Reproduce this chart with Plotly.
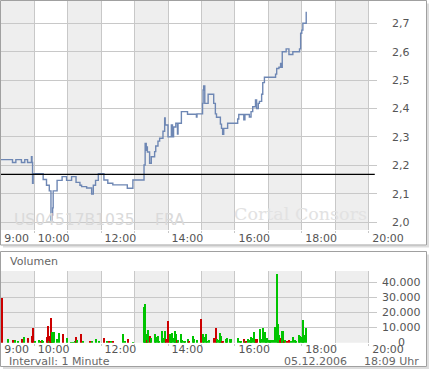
import plotly.graph_objects as go

DAY = "2006-12-05 "

# ---------------- data ----------------
price_times = ["09:00", "09:21", "09:27", "09:37", "09:43", "09:48", "09:55", "09:56", "09:57", "09:58",
               "10:16", "10:22", "10:27", "10:30", "10:32", "10:33", "10:34", "10:41", "10:50", "10:58",
               "11:07", "11:15", "11:22", "11:25", "11:34", "11:43", "11:46", "11:50", "11:55", "12:05",
               "12:12", "12:21", "12:47", "12:57", "13:17", "13:19", "13:21", "13:22", "13:23", "13:27",
               "13:30", "13:36", "13:38", "13:42", "13:45", "13:51", "13:54", "13:55", "14:00", "14:06",
               "14:08", "14:10", "14:14", "14:17", "14:18", "14:24", "14:35", "14:51", "14:52", "15:02",
               "15:03", "15:04", "15:06", "15:12", "15:22", "15:25", "15:27", "15:34", "15:36", "15:38",
               "15:40", "15:47", "16:05", "16:07", "16:16", "16:18", "16:26", "16:29", "16:32", "16:37",
               "16:39", "16:42", "16:44", "16:48", "16:50", "16:53", "17:13", "17:15", "17:19", "17:22",
               "17:23", "17:25", "17:32", "17:37", "17:44", "17:56", "17:58", "18:00", "18:02", "18:08"]
price_values = [2.22, 2.21, 2.22, 2.21, 2.22, 2.21, 2.23, 2.21, 2.137, 2.17,
                2.15, 2.13, 2.11, 2.007, 2.025, 2.05, 2.11, 2.147, 2.16, 2.147,
                2.16, 2.14, 2.13, 2.125, 2.12, 2.099, 2.13, 2.147, 2.17, 2.148,
                2.137, 2.131, 2.119, 2.148, 2.201, 2.277, 2.253, 2.265, 2.247, 2.207,
                2.23, 2.248, 2.268, 2.285, 2.295, 2.32, 2.367, 2.342, 2.30, 2.342,
                2.30, 2.335, 2.348, 2.31, 2.348, 2.389, 2.38, 2.37, 2.381, 2.418,
                2.465, 2.479, 2.418, 2.45, 2.418, 2.381, 2.369, 2.345, 2.33, 2.309,
                2.33, 2.348, 2.363, 2.379, 2.36, 2.379, 2.37, 2.389, 2.406, 2.43,
                2.40, 2.418, 2.425, 2.45, 2.491, 2.51, 2.521, 2.541, 2.545, 2.559,
                2.545, 2.60, 2.61, 2.59, 2.60, 2.61, 2.665, 2.676, 2.70, 2.741]
prev_close = 2.168

vol_times = ["09:02", "09:12", "09:21", "09:26", "09:31", "09:37", "09:42", "09:48", "09:56", "09:58",
             "10:01", "10:09", "10:11", "10:14", "10:16", "10:22", "10:24", "10:26", "10:28", "10:29",
             "10:30", "10:32", "10:34", "10:36", "10:40", "10:44", "10:52", "10:58", "11:06", "11:09",
             "11:13", "11:15", "11:17", "11:24", "11:27", "11:40", "11:44", "11:50", "11:55", "12:05",
             "12:11", "12:14", "12:17", "12:21", "12:39", "12:42", "12:47", "12:57", "13:17", "13:19",
             "13:21", "13:22", "13:24", "13:28", "13:30", "13:37", "13:39", "13:42", "13:44", "13:48",
             "13:51", "13:55", "13:56", "14:00", "14:04", "14:05", "14:07", "14:11", "14:13", "14:14",
             "14:16", "14:18", "14:23", "14:25", "14:28", "14:31", "14:35", "14:37", "14:45", "14:47",
             "14:52", "14:59", "15:03", "15:05", "15:07", "15:09", "15:13", "15:22", "15:26", "15:28",
             "15:31", "15:33", "15:35", "15:37", "15:39", "15:43", "15:46", "15:50", "15:53", "16:05",
             "16:09", "16:11", "16:16", "16:18", "16:20", "16:23", "16:26", "16:28", "16:30", "16:34",
             "16:36", "16:38", "16:40", "16:45", "16:47", "16:50", "16:53", "16:55", "16:58", "17:01",
             "17:03", "17:05", "17:08", "17:12", "17:15", "17:17", "17:19", "17:21", "17:23", "17:24",
             "17:26", "17:28", "17:30", "17:34", "17:36", "17:40", "17:44", "17:47", "17:49", "17:55",
             "17:57", "18:00", "18:02", "18:04", "18:08"]
vol_values = [30000, 2400, 1800, 1800, 1300, 2400, 3800, 2900, 4700, 10000,
              900, 1800, 900, 1800, 700, 4000, 11100, 1100, 4400, 16700,
              8400, 7300, 4700, 7300, 2400, 6200, 5800, 3100, 400, 400,
              700, 3800, 1800, 5800, 700, 1100, 1100, 2400, 1100, 3100,
              1100, 1100, 1100, 1100, 5800, 1100, 2400, 400, 24000, 25800,
              5800, 2000, 8400, 4700, 3300, 5800, 3800, 4400, 1100, 7800,
              2900, 7800, 2400, 14400, 5800, 5800, 6400, 3100, 7800, 5800,
              1800, 1800, 5800, 1800, 1100, 700, 2400, 1100, 4400, 2400,
              1800, 15800, 5800, 3800, 5800, 1100, 1800, 3100, 9800, 2400,
              1800, 6700, 4700, 1100, 1100, 2400, 2900, 2400, 2400, 3300,
              1100, 1100, 2400, 1100, 700, 2400, 1800, 4000, 2900, 7300,
              2400, 2400, 2400, 9100, 2400, 10000, 7300, 1800, 3300, 1800,
              1100, 1800, 1800, 10700, 45800, 12200, 5100, 1800, 3300, 7800,
              7800, 1100, 1800, 1100, 1800, 700, 4000, 1800, 1100, 5100,
              4400, 4000, 15100, 5100, 10000]
# +1 = up tick (green), -1 = down tick (red)
vol_direction = [-1, 1, -1, 1, 1, -1, 1, -1, -1, -1,
                 1, 1, -1, 1, 1, -1, -1, 1, -1, -1,
                 -1, 1, 1, 1, 1, 1, -1, 1, 1, 1,
                 1, -1, 1, -1, 1, -1, 1, 1, 1, -1,
                 1, -1, 1, -1, 1, 1, -1, 1, 1, 1,
                 1, -1, 1, -1, 1, 1, 1, 1, 1, 1,
                 1, 1, -1, -1, 1, 1, 1, 1, 1, 1,
                 -1, 1, 1, 1, 1, 1, 1, -1, 1, 1,
                 1, -1, 1, 1, 1, 1, 1, -1, -1, 1,
                 1, 1, 1, -1, -1, 1, 1, 1, 1, 1,
                 1, 1, -1, 1, -1, 1, 1, 1, 1, 1,
                 1, -1, -1, 1, 1, 1, 1, 1, 1, 1,
                 1, 1, 1, 1, 1, 1, 1, -1, -1, 1,
                 1, -1, 1, -1, -1, 1, 1, 1, 1, 1,
                 1, 1, 1, 1, 1]

hour_ticks = ["09:00", "10:00", "11:00", "12:00", "13:00", "14:00", "15:00",
              "16:00", "17:00", "18:00", "19:00", "20:00"]
hour_labels = ["9:00", "10:00", "", "12:00", "", "14:00", "", "16:00", "", "18:00", "", "20:00"]
shaded_hours = [("09:00", "10:00"), ("11:00", "12:00"), ("13:00", "14:00"),
                ("15:00", "16:00"), ("17:00", "18:00"), ("19:00", "20:00")]
price_ticks = [2.0, 2.1, 2.2, 2.3, 2.4, 2.5, 2.6, 2.7]
price_tick_labels = ["2,0", "2,1", "2,2", "2,3", "2,4", "2,5", "2,6", "2,7"]
vol_ticks = [0, 10000, 20000, 30000, 40000]
vol_tick_labels = ["0", "10.000", "20.000", "30.000", "40.000"]

# ---------------- styling / geometry ----------------
W, H = 432, 372
def PX(x):
    return x / W
def PY(y):
    return 1 - y / H

FONT = "DejaVu Sans, Verdana, sans-serif"
GRID = "#C8C8C8"
BAND = "#EEEEEE"
TXT = "#555555"
LINE = "#6E87B4"
UP = "#00C400"
DOWN = "#CC0000"

t = lambda s: DAY + s + ":00"
x_range = [t("09:00"), t("20:15")]

fig = go.Figure()

fig.add_trace(go.Scatter(
    x=[t(s) for s in price_times], y=price_values, mode="lines",
    line=dict(color=LINE, width=1.4, shape="hv"),
    xaxis="x", yaxis="y", hoverinfo="skip", showlegend=False))

fig.add_trace(go.Bar(
    x=[t(s) for s in vol_times], y=vol_values,
    marker=dict(color=[UP if d > 0 else DOWN for d in vol_direction], line=dict(width=0)),
    width=110000, xaxis="x2", yaxis="y2", hoverinfo="skip", showlegend=False))

shapes = []
for a, b in shaded_hours:
    for xr, yr in (("x", "y domain"), ("x2", "y2 domain")):
        shapes.append(dict(type="rect", xref=xr, yref=yr, x0=t(a), x1=t(b), y0=0, y1=1,
                           fillcolor=BAND, line=dict(width=0), layer="below"))
# previous close line
shapes.append(dict(type="line", xref="x", yref="y", x0=t("09:00"), x1=t("20:11"),
                   y0=prev_close, y1=prev_close, line=dict(color="#000000", width=1.2), layer="above"))
# frames and shadows
for top, bot in ((0.5, 245), (251.5, 366.5)):
    shapes.append(dict(type="line", xref="paper", yref="paper", x0=PX(428), x1=PX(428),
                       y0=PY(top + 3), y1=PY(bot + 2), line=dict(color="#DDDDDD", width=2)))
    shapes.append(dict(type="line", xref="paper", yref="paper", x0=PX(3), x1=PX(429),
                       y0=PY(bot + 1.5), y1=PY(bot + 1.5), line=dict(color="#DDDDDD", width=2)))
    shapes.append(dict(type="rect", xref="paper", yref="paper", x0=PX(0.5), x1=PX(426.5),
                       y0=PY(bot), y1=PY(top), line=dict(color="#A0A0A0", width=1)))

annotations = []
for v, lab in zip(vol_ticks, vol_tick_labels):
    annotations.append(dict(text=lab, xref="paper", yref="y2", x=PX(401.5), y=v,
                            xanchor="center", yanchor="middle", showarrow=False,
                            font=dict(family=FONT, size=11, color=TXT)))

def note(text, x, y, anchor="left", size=11, color="#666666", family=FONT):
    annotations.append(dict(text=text, xref="paper", yref="paper", x=PX(x), y=PY(y),
                            xanchor=anchor, yanchor="middle", showarrow=False,
                            font=dict(family=family, size=size, color=color)))

note("US04517B1035", 11.5, 219.5, size=15.5, color="#DADADA")
note("FRA", 152.5, 219.5, size=15.5, color="#DADADA")
note("Cortal Consors", 300, 214, anchor="center", size=17.5, color="#E2E2E2",
     family="DejaVu Serif, Liberation Serif, serif")
note("Volumen", 8, 261.7)
note("Intervall: 1 Minute", 6.5, 361)
note("05.12.2006", 348.5, 361, anchor="right")
note("18:09 Uhr", 420.5, 361, anchor="right")

xcommon = dict(type="date", range=x_range, domain=[PX(0.8), PX(377)],
               tickvals=[t(s) for s in hour_ticks], ticktext=hour_labels, tickangle=0,
               showgrid=True, gridcolor=GRID, gridwidth=1, zeroline=False, showline=False,
               ticks="outside", ticklen=2, tickcolor=GRID, automargin=False,
               ticklabelposition="outside right", ticklabelshift=3,
               tickfont=dict(family=FONT, size=11, color=TXT), fixedrange=True)

fig.update_layout(
    template="none",
    width=W, height=H, margin=dict(l=0, r=0, t=0, b=0, autoexpand=False),
    paper_bgcolor="white", plot_bgcolor="white", showlegend=False,
    xaxis=dict(anchor="y", ticklabelstandoff=-2, **xcommon),
    xaxis2=dict(anchor="y2", ticklabelstandoff=-4, **xcommon),
    yaxis=dict(domain=[PY(230), PY(1)], range=[1.9722, 2.7785], side="right", anchor="x",
               tickvals=price_ticks, ticktext=price_tick_labels, showgrid=True, gridcolor=GRID,
               zeroline=False, showline=False, ticks="", ticklabelstandoff=14, automargin=False,
               tickfont=dict(family=FONT, size=11, color=TXT)),
    yaxis2=dict(domain=[PY(342.7), PY(271)], range=[0, 47800], side="right", anchor="x2",
                tickvals=vol_ticks, showticklabels=False, showgrid=True, gridcolor=GRID,
                zeroline=False, showline=False, ticks="", automargin=False),
    bargap=0,
    shapes=shapes, annotations=annotations,
)

fig.write_html("out.html")
